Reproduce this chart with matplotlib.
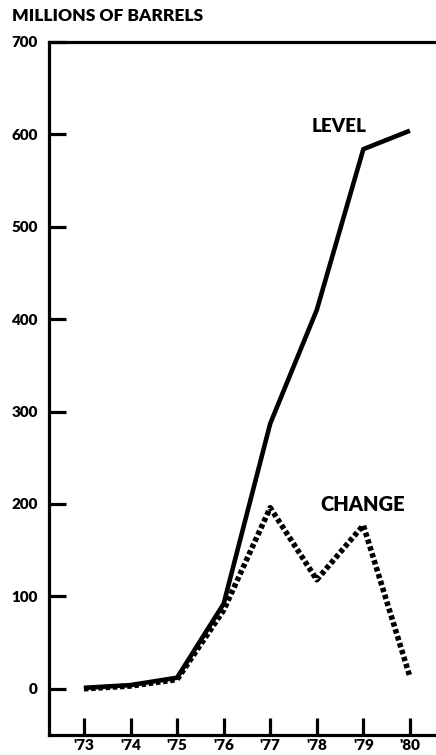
import matplotlib.pyplot as plt

# Dados (milhões de barris)
anos = [1973, 1974, 1975, 1976, 1977, 1978, 1979, 1980]
rotulos_x = ["'73", "'74", "'75", "'76", "'77", "'78", "'79", "'80"]
nivel = [1, 4, 12, 92, 287, 410, 584, 604]
variacao = [0, 3, 10, 85, 196, 118, 177, 13]
ticks_y = [0, 100, 200, 300, 400, 500, 600, 700]

plt.rcParams['font.family'] = ['Lato', 'DejaVu Sans']
plt.rcParams['font.weight'] = 'bold'

fig = plt.figure(figsize=(4.36, 7.55), dpi=100)
ax = fig.add_axes([0.1124, 0.0265, 0.8876, 0.9179])

ax.plot(anos, nivel, color='black', linewidth=3.3, solid_capstyle='butt')
ax.plot(anos, variacao, color='black', linewidth=4.0,
        linestyle=(0, (0.8, 0.5)), dash_capstyle='butt')

ax.text(1978.47, 609, 'LEVEL', fontsize=13.5, fontweight='heavy', ha='center', va='center')
ax.text(1978.99, 199, 'CHANGE', fontsize=14.5, fontweight='heavy', ha='center', va='center')

ax.set_xlim(1972.25, 1980.56)
ax.set_ylim(-50, 700)
ax.set_xticks(anos)
ax.set_xticklabels(rotulos_x, fontsize=11, fontweight='heavy')
ax.set_yticks(ticks_y)
ax.set_yticklabels([str(v) for v in ticks_y], fontsize=11, fontweight='heavy')

ax.tick_params(axis='y', direction='in', length=12, width=2.3, pad=8)
ax.tick_params(axis='x', direction='in', length=12, width=2.3, pad=3)

ax.spines['right'].set_visible(False)
for lado in ['left', 'top', 'bottom']:
    ax.spines[lado].set_linewidth(2.3)

fig.text(0.028, 0.979, 'MILLIONS OF BARRELS', fontsize=12.5, fontweight='heavy',
         ha='left', va='center')

plt.savefig('out.png', dpi=100)
